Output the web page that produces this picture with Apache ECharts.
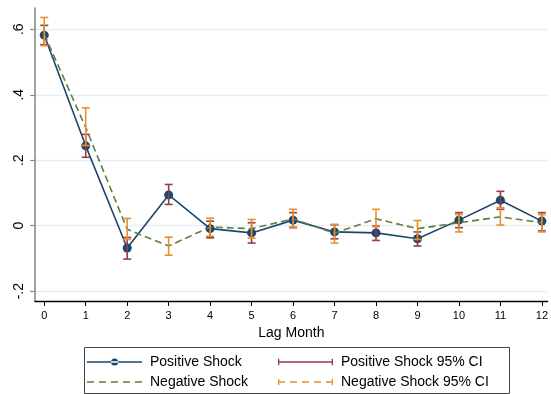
<!DOCTYPE html>
<html>
<head>
<meta charset="utf-8">
<script src="https://cdn.jsdelivr.net/npm/echarts@6/dist/echarts.min.js"></script>
<style>html,body{margin:0;padding:0;background:#fff}#c{width:551px;height:394px}</style>
</head>
<body>
<div id="c"></div>
<script>
// ---- data ----
var lags = [0,1,2,3,4,5,6,7,8,9,10,11,12];
var posEst = [0.582,0.244,-0.068,0.094,-0.009,-0.022,0.017,-0.019,-0.022,-0.040,0.017,0.078,0.014];
var posLo  = [0.553,0.209,-0.102,0.065,-0.037,-0.053,-0.006,-0.040,-0.045,-0.062,-0.006,0.050,-0.016];
var posHi  = [0.612,0.279,-0.036,0.126,0.014,0.009,0.040,0.003,-0.001,-0.019,0.040,0.105,0.040];
var negEst = [0.585,0.300,-0.011,-0.062,-0.004,-0.009,0.021,-0.023,0.021,-0.009,0.009,0.027,0.009];
var negLo  = [0.550,0.245,-0.042,-0.090,-0.032,-0.038,-0.004,-0.053,-0.003,-0.042,-0.019,0.002,-0.019];
var negHi  = [0.636,0.360,0.022,-0.035,0.023,0.019,0.050,0.004,0.050,0.016,0.034,0.055,0.034];
var yTicks = [-0.2,0,0.2,0.4,0.6];
var yTickLabels = ['-.2','0','.2','.4','.6'];
var xTicks = [0,1,2,3,4,5,6,7,8,9,10,11,12];
var names = ['Positive Shock','Negative Shock','Positive Shock 95% CI','Negative Shock 95% CI'];

var C_BLUE='#1a476f', C_GREEN='#5f7f3a', C_RED='#963c48', C_ORANGE='#e8902a';

function zip(a,b){return a.map(function(v,i){return [v,b[i]];});}
function zip3(a,b,c){return a.map(function(v,i){return [v,b[i],c[i]];});}

function capRender(color){
  return function(params, api){
    var x = api.value(0), lo = api.value(1), hi = api.value(2);
    var pLo = api.coord([x, lo]), pHi = api.coord([x, hi]);
    var w = 4;
    var st = {stroke: color, lineWidth: 1.6, fill: null};
    return {type:'group', children:[
      {type:'line', shape:{x1:pLo[0],y1:pLo[1],x2:pHi[0],y2:pHi[1]}, style:st},
      {type:'line', shape:{x1:pLo[0]-w,y1:pLo[1],x2:pLo[0]+w,y2:pLo[1]}, style:st},
      {type:'line', shape:{x1:pHi[0]-w,y1:pHi[1],x2:pHi[0]+w,y2:pHi[1]}, style:st}
    ]};
  };
}

// legend icons (55 x 10 box, corner dots keep the bounding box)
var box = 'M0,0 L0.01,0 L0,0.01 Z M55,10 L54.99,10 L55,9.99 Z ';
var hline = 'M0,4.35 L55,4.35 L55,5.65 L0,5.65 Z ';
var iconPos = 'path://' + box + hline + 'M24,5 A3.6,3.6 0 1,0 31.2,5 A3.6,3.6 0 1,0 24,5 Z';
var dashes = function(){var s='';var segs=[[0,7],[12,19],[24,31],[36,43],[48,55]];
  segs.forEach(function(g){s+='M'+g[0]+',4.35 L'+g[1]+',4.35 L'+g[1]+',5.65 L'+g[0]+',5.65 Z ';});return s;};
var caps = 'M0,1.8 L1.3,1.8 L1.3,8.2 L0,8.2 Z M53.7,1.8 L55,1.8 L55,8.2 L53.7,8.2 Z';
var iconNeg = 'path://' + box + dashes();
var iconPosCI = 'path://' + box + hline + caps;
var iconNegCI = 'path://' + box + dashes() + caps;
var icons = [iconPos, iconNeg, iconPosCI, iconNegCI];
var legendPos = [[87,355],[87,375],[278,355],[278,375]];

var font = 'Liberation Sans, Arial, sans-serif';
var legends = names.map(function(n,i){
  return {orient:'horizontal', left:legendPos[i][0], top:legendPos[i][1], itemWidth:55, itemHeight:10,
    padding:0, textStyle:{fontSize:14, color:'#000', fontFamily:font, padding:[0,0,0,3]},
    data:[{name:n, icon:icons[i]}]};
});

var chart = echarts.init(document.getElementById('c'), null, {renderer:'canvas'});
chart.setOption({
  animation:false,
  textStyle:{fontFamily:font},
  grid:{left:35, right:1, top:8, bottom:93, containLabel:false},
  xAxis:{
    type:'value', min:-0.223, max:12.14,
    name:'Lag Month', nameLocation:'middle', nameGap:22,
    nameTextStyle:{fontSize:14, color:'#000', fontFamily:font},
    axisLine:{show:true, onZero:false, lineStyle:{color:'#000', width:1.3}},
    axisTick:{show:true, length:5, lineStyle:{color:'#000', width:1}, customValues:xTicks},
    axisLabel:{fontSize:11, color:'#000', margin:9, customValues:xTicks, fontFamily:font},
    splitLine:{show:false}
  },
  yAxis:{
    type:'value', min:-0.23, max:0.665,
    axisLine:{show:true, onZero:false, lineStyle:{color:'#8c8c8c', width:1.6}},
    axisTick:{show:true, length:5, lineStyle:{color:'#8c8c8c', width:1.2}, customValues:yTicks},
    axisLabel:{fontSize:14, color:'#000', rotate:90, margin:9, customValues:yTicks, fontFamily:font,
      formatter:function(v){var i=yTicks.findIndex(function(t){return Math.abs(t-v)<1e-6;});return i>=0?yTickLabels[i]:'';}},
    splitLine:{show:true, lineStyle:{color:'#e6eff1', width:1.3}}
  },
  legend:legends,
  graphic:[{type:'rect', left:82, top:345, z:100, shape:{x:0, y:0, width:425, height:46},
    style:{fill:'none', stroke:'#444', lineWidth:1}, silent:true}],
  series:[
    {name:names[0], type:'line', data:zip(lags,posEst), symbol:'circle', symbolSize:9,
     lineStyle:{color:C_BLUE, width:1.6}, itemStyle:{color:C_BLUE}, z:2},
    {name:names[1], type:'line', data:zip(lags,negEst), symbol:'none', showSymbol:false,
     lineStyle:{color:C_GREEN, width:1.6, type:[7,4]}, itemStyle:{color:C_GREEN}, z:3},
    {name:names[2], type:'custom', data:zip3(lags,posLo,posHi), renderItem:capRender(C_RED),
     itemStyle:{color:C_RED}, encode:{x:0,y:[1,2]}, z:4},
    {name:names[3], type:'custom', data:zip3(lags,negLo,negHi), renderItem:capRender(C_ORANGE),
     itemStyle:{color:C_ORANGE}, encode:{x:0,y:[1,2]}, z:5}
  ]
});
</script>
</body>
</html>
